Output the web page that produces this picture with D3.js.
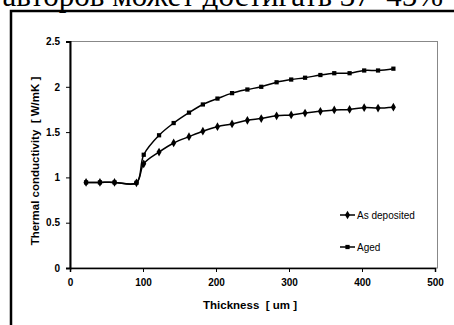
<!DOCTYPE html>
<html>
<head>
<meta charset="utf-8">
<script src="https://cdn.jsdelivr.net/npm/d3@7"></script>
<style>
  body { margin: 0; background: #fff; }
  svg { display: block; }
  .tick text { font-family: Arial, "Liberation Sans", sans-serif; font-weight: bold; font-size: 10px; }
</style>
</head>
<body>
<div id="chart"></div>
<script>
"use strict";

// data
var lowThickness = [22, 41, 61, 91];
var lowValues = [0.945, 0.945, 0.945, 0.94];

var thickness = [101, 122, 142, 163, 182, 202, 222, 243, 262, 283, 303, 322, 343, 362, 383, 403, 422, 443];
var asDeposited = [1.15, 1.28, 1.38, 1.45, 1.51, 1.56, 1.59, 1.63, 1.65, 1.68, 1.69, 1.71, 1.73, 1.745, 1.75, 1.77, 1.765, 1.775];
var aged = [1.25, 1.465, 1.60, 1.715, 1.805, 1.87, 1.93, 1.97, 2.00, 2.05, 2.08, 2.10, 2.13, 2.15, 2.15, 2.18, 2.18, 2.20];

var xTicks = [0, 100, 200, 300, 400, 500];
var yTicks = [0, 0.5, 1, 1.5, 2, 2.5];
var seriesNames = ["As deposited", "Aged"];

function toPoints(xs, ys) {
    return xs.map(function(d, i) { return [d, ys[i]]; });
}

var series = [
    { name: seriesNames[0], symbol: d3.symbolDiamond, size: 22,
      points: toPoints(lowThickness.concat(thickness), lowValues.concat(asDeposited)) },
    { name: seriesNames[1], symbol: d3.symbolSquare, size: 18,
      points: toPoints(lowThickness.concat(thickness), lowValues.concat(aged)) }
];

var width = 454, height = 325;

var svg = d3.select("#chart").append("svg")
    .attr("width", width)
    .attr("height", height);

// cropped caption line from the page above the figure (cut off at the top, as in the scan)
svg.append("text")
    .attr("x", 443)
    .attr("y", 6)
    .attr("text-anchor", "end")
    .style("font-family", "'Liberation Serif', 'Times New Roman', serif")
    .style("font-size", "31px")
    .text("авторов может достигать 37–45%");

// outer frame of the figure
svg.append("rect")
    .attr("x", 11)
    .attr("y", 11)
    .attr("width", 460)
    .attr("height", 330)
    .style("fill", "none")
    .style("stroke", "#000")
    .style("stroke-width", 2.5);

var x = d3.scaleLinear().domain([0, 500]).range([70, 435]);
var y = d3.scaleLinear().domain([0, 2.5]).range([268, 41.5]);

// plot area border
svg.append("rect")
    .attr("x", x(0))
    .attr("y", y(2.5))
    .attr("width", 437.5 - x(0))
    .attr("height", y(0) - y(2.5))
    .style("fill", "none")
    .style("stroke", "#888")
    .style("stroke-width", 1);

var xAxis = svg.append("g")
    .attr("transform", "translate(0," + y(0) + ")")
    .call(d3.axisBottom(x).tickValues(xTicks).tickSize(4).tickPadding(7)
        .tickFormat(d3.format("d")));

var yAxis = svg.append("g")
    .attr("transform", "translate(" + x(0) + ",0)")
    .call(d3.axisLeft(y).tickValues(yTicks).tickSize(4).tickPadding(6)
        .tickFormat(function(d) { return String(d); }));

xAxis.select(".domain").style("stroke-width", 1.5);
yAxis.select(".domain").style("stroke-width", 2);

svg.append("text")
    .attr("x", 250)
    .attr("y", 309)
    .attr("text-anchor", "middle")
    .style("font-family", "Arial, 'Liberation Sans', sans-serif")
    .style("font-weight", "bold")
    .style("font-size", "11.5px")
    .style("white-space", "pre")
    .text("Thickness  [ um ]");

svg.append("text")
    .attr("transform", "translate(39,161) rotate(-90)")
    .attr("text-anchor", "middle")
    .style("font-family", "Arial, 'Liberation Sans', sans-serif")
    .style("font-weight", "bold")
    .style("font-size", "11.5px")
    .style("white-space", "pre")
    .text("Thermal conductivity  [ W/mK ]");

var line = d3.line()
    .x(function(d) { return x(d[0]); })
    .y(function(d) { return y(d[1]); })
    .curve(d3.curveCatmullRom.alpha(0.5));

series.forEach(function(s) {
    svg.append("path")
        .datum(s.points)
        .attr("d", line)
        .style("fill", "none")
        .style("stroke", "#000")
        .style("stroke-width", 1.5);

    svg.append("g").selectAll("path")
        .data(s.points)
        .enter().append("path")
        .attr("transform", function(d) { return "translate(" + x(d[0]) + "," + y(d[1]) + ")"; })
        .attr("d", d3.symbol().type(s.symbol).size(s.size))
        .style("fill", "#000");
});

// legend
var legend = svg.append("g")
    .selectAll("g")
    .data(series)
    .enter().append("g")
    .attr("transform", function(d, i) { return "translate(340," + (215 + i * 32) + ")"; });

legend.append("line")
    .attr("x1", 0).attr("x2", 15)
    .style("stroke", "#000")
    .style("stroke-width", 1.5);

legend.append("path")
    .attr("transform", "translate(7.5,0)")
    .attr("d", function(d) { return d3.symbol().type(d.symbol).size(d.size)(); })
    .style("fill", "#000");

legend.append("text")
    .attr("x", 17)
    .attr("dy", "0.35em")
    .style("font-family", "Arial, 'Liberation Sans', sans-serif")
    .style("font-size", "10px")
    .text(function(d) { return d.name; });
</script>
</body>
</html>
